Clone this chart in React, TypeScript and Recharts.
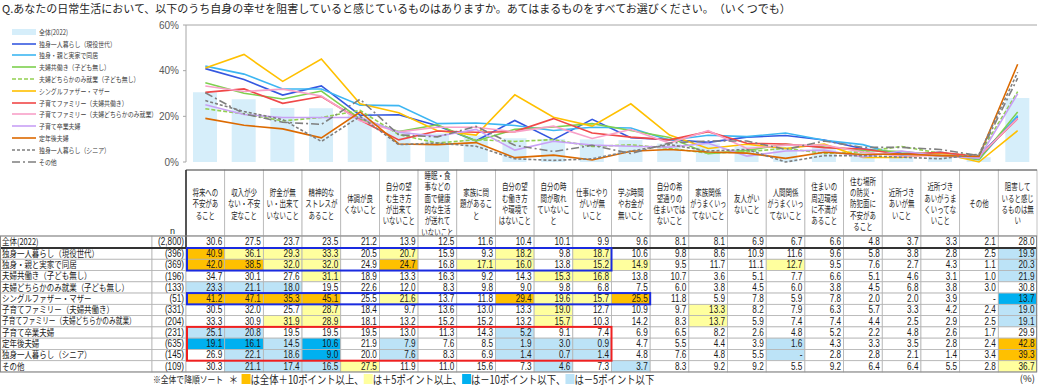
import React from 'react';
import { ComposedChart, Bar, Line, XAxis, YAxis, Legend, ReferenceLine } from 'recharts';

// ---------- data ----------
const categories = [
  '将来への\n不安があ\nること',
  '収入が少\nない・不安\n定なこと',
  '貯金が無\nい・出来て\nいないこと',
  '精神的な\nストレスが\nあること',
  '体調が良\nくないこと',
  '自分の望\nむ生き方\nが出来て\nいないこと',
  '睡眠・食\n事などの\n面で健康\n的な生活\nが送れて\nいないこと',
  '家族に問\n題があるこ\nと',
  '自分の望\nむ働き方\nや環境で\nはないこと',
  '自分の時\n間が取れ\nていないこ\nと',
  '仕事にやり\nがいが無\nいこと',
  '学ぶ時間\nやお金が\n無いこと',
  '自分の希\n望通りの\n住まいでは\nないこと',
  '家族関係\nがうまくいっ\nてないこと',
  '友人がい\nないこと',
  '人間関係\nがうまくいっ\nてないこと',
  '住まいの\n周辺環境\nに不満が\nあること',
  '住む場所\nの防災・\n防犯面に\n不安があ\nること',
  '近所づき\nあいが無\nいこと',
  '近所づき\nあいがうま\nくいってな\nいこと',
  'その他',
  '阻害して\nいると感じ\nるものは無\nい',
];

const overallLabel = '全体(2022)';
const overallN = '(2,800)';
const overall2022 = [30.6, 27.5, 23.7, 23.5, 21.2, 13.9, 12.5, 11.6, 10.4, 10.1, 9.9, 9.6, 8.1, 8.1, 6.9, 6.7, 6.6, 4.8, 3.7, 3.3, 2.1, 28.0];

const groupLabels = [
  '独身一人暮らし（現役世代）',
  '独身・親と実家で同居',
  '夫婦共働き（子ども無し）',
  '夫婦どちらかのみ就業（子ども無し）',
  'シングルファザー・マザー',
  '子育てファミリー（夫婦共働き）',
  '子育てファミリー（夫婦どちらかのみ就業）',
  '子育て卒業夫婦',
  '定年後夫婦',
  '独身一人暮らし（シニア）',
  'その他',
];
const groupN = ['(396)', '(369)', '(196)', '(133)', '(51)', '(331)', '(204)', '(231)', '(635)', '(145)', '(109)'];

const singleWorkingAge = [40.9, 36.1, 29.3, 33.3, 20.5, 20.7, 15.9, 9.3, 18.2, 9.8, 18.7, 10.6, 9.8, 8.6, 10.9, 11.6, 9.6, 5.8, 3.8, 2.8, 2.5, 19.9];
const singleWithParents = [42.0, 38.5, 32.0, 32.0, 24.9, 24.7, 16.8, 17.1, 16.0, 13.8, 15.2, 14.9, 9.5, 11.7, 11.1, 12.7, 9.5, 7.6, 2.7, 4.3, 1.1, 20.3];
const dualIncomeNoKids = [34.7, 30.1, 27.6, 31.1, 18.9, 13.3, 16.3, 9.2, 14.3, 15.3, 16.8, 13.8, 10.7, 3.6, 5.1, 7.7, 6.6, 5.1, 4.6, 3.1, 1.0, 21.9];
const singleIncomeNoKids = [23.3, 21.1, 18.0, 19.5, 22.6, 12.0, 8.3, 9.8, 9.0, 9.8, 6.8, 7.5, 6.0, 3.8, 4.5, 6.0, 3.8, 4.5, 6.8, 3.8, 3.0, 30.8];
const singleParent = [41.2, 47.1, 35.3, 45.1, 25.5, 21.6, 13.7, 11.8, 29.4, 19.6, 15.7, 25.5, 11.8, 5.9, 7.8, 5.9, 7.8, 2.0, 2.0, 3.9, null, 13.7];
const childRearingDual = [30.5, 32.0, 25.7, 28.7, 18.4, 9.7, 13.6, 13.0, 13.3, 19.0, 12.7, 10.9, 9.7, 13.3, 8.2, 7.9, 6.3, 5.7, 3.3, 4.2, 2.4, 19.0];
const childRearingSingle = [33.3, 30.9, 31.9, 28.9, 18.1, 13.2, 15.2, 15.2, 13.2, 15.7, 10.3, 14.2, 8.3, 13.7, 5.9, 7.4, 7.4, 4.4, 2.5, 2.9, 2.5, 19.1];
const emptyNest = [25.1, 20.8, 19.5, 19.5, 19.5, 13.0, 11.3, 14.3, 5.2, 9.1, 7.4, 6.9, 6.5, 8.2, 2.6, 4.8, 5.2, 2.2, 4.8, 2.6, 1.7, 29.9];
const retiredCouple = [19.1, 16.1, 14.5, 10.6, 21.9, 7.9, 7.6, 8.5, 1.9, 3.0, 0.9, 4.7, 5.5, 4.4, 3.9, 1.6, 4.3, 3.3, 3.5, 2.8, 2.4, 42.8];
const singleSenior = [26.9, 22.1, 18.6, 9.0, 20.0, 7.6, 8.3, 6.9, 1.4, 0.7, 1.4, 4.8, 7.6, 4.8, 5.5, null, 2.8, 2.8, 2.1, 1.4, 3.4, 39.3];
const others = [30.3, 21.1, 17.4, 16.5, 27.5, 11.9, 11.0, 15.6, 7.3, 4.6, 7.3, 3.7, 8.3, 9.2, 9.2, 5.5, 9.2, 6.4, 6.4, 5.5, 2.8, 36.7];

const groupValues: (number | null)[][] = [
  singleWorkingAge, singleWithParents, dualIncomeNoKids, singleIncomeNoKids, singleParent,
  childRearingDual, childRearingSingle, emptyNest, retiredCouple, singleSenior, others,
];

const yTicks = [0, 20, 40, 60];

// ---------- styles ----------
const lineStyles: { color: string; dash?: string }[] = [
  { color: '#3558E0' },
  { color: '#3DB6F2' },
  { color: '#7ED04E' },
  { color: '#92D050', dash: '4 2' },
  { color: '#FFC000' },
  { color: '#F04848' },
  { color: '#F8A0C8' },
  { color: '#C8A0F5' },
  { color: '#DC6A00' },
  { color: '#7F7F7F', dash: '3 2' },
  { color: '#7F7F7F', dash: '8 3 2 3' },
];
const BAR_COLOR = '#D6EEFA';
const ORANGE = '#FFC000';
const YELLOW = '#FFFF9E';
const DBLUE = '#00B0F0';
const LBLUE = '#BCE3F7';

// highlighted frames: rows are 1-based group rows, cols count from first data column
const frames = [
  { from: 1, to: 2, cols: 11, color: '#1A2BE0' },
  { from: 5, to: 5, cols: 12, color: '#1A2BE0' },
  { from: 8, to: 10, cols: 11, color: '#F02020' },
];

// ---------- layout ----------
const WIDTH = 1038;
const PLOT_LEFT = 186;
const PLOT_RIGHT = 1037;
const CHART_H = 170;
const COL_W = (PLOT_RIGHT - PLOT_LEFT) / categories.length;
const HEADER_TOP = 170;
const ROW0_TOP = 236;
const ROW1_TOP = 248;
const ROW_H = 11.27;
const LABEL_RIGHT = 152;
const JP = '"Noto Sans CJK JP", "Noto Sans CJK SC", sans-serif';
const NUMF = '"Liberation Sans", Arial, sans-serif';

const chartData = categories.map((c, i) => {
  const row: Record<string, any> = { name: c, overall: overall2022[i] };
  groupValues.forEach((vals, k) => {
    row[`s${k}`] = vals[i] ?? 0;
  });
  return row;
});

const cellColor = (v: number | null, base: number) => {
  const d = Math.round(((v ?? 0) - base) * 10) / 10;
  if (d >= 10) return ORANGE;
  if (d >= 5) return YELLOW;
  if (d <= -10) return DBLUE;
  if (d <= -5) return LBLUE;
  return '#FFFFFF';
};

const fmt = (v: number | null) => (v === null ? '-' : v.toFixed(1));

function SText(props: { x: number; y: number; text: string; size: number; sx: number; anchor?: string; family?: string; fill?: string }) {
  const { x, y, text, size, sx, anchor = 'start', family = JP, fill = '#1a1a1a' } = props;
  return (
    <text
      transform={`translate(${x},${y}) scale(${sx},1)`}
      fontSize={size}
      fontFamily={family}
      textAnchor={anchor as any}
      fill={fill}
    >
      {text}
    </text>
  );
}

function renderLegend() {
  const items = [{ label: overallLabel, bar: true, color: BAR_COLOR, dash: undefined as string | undefined }].concat(
    groupLabels.map((l, k) => ({ label: l, bar: false, color: lineStyles[k].color, dash: lineStyles[k].dash }))
  );
  return (
    <div style={{ width: 175 }}>
      {items.map((it, i) => (
        <div key={i} style={{ display: 'flex', alignItems: 'center', height: 11.8 }}>
          <svg width={24} height={8} style={{ flex: 'none' }}>
            {it.bar ? (
              <rect x={0} y={1} width={24} height={6} fill={it.color} />
            ) : (
              <line x1={0} y1={4} x2={24} y2={4} stroke={it.color} strokeWidth={1.6} strokeDasharray={it.dash} />
            )}
          </svg>
          <span
            style={{
              fontSize: 7.4,
              fontFamily: JP,
              marginLeft: 2.5,
              display: 'inline-block',
              whiteSpace: 'nowrap',
              transform: 'scaleX(0.8)',
              transformOrigin: 'left center',
              color: '#404040',
              lineHeight: '10px',
            }}
          >
            {it.label}
          </span>
        </div>
      ))}
    </div>
  );
}

function Table() {
  const rows = [{ label: overallLabel, n: overallN, values: overall2022 as (number | null)[] }].concat(
    groupLabels.map((l, k) => ({ label: l, n: groupN[k], values: groupValues[k] }))
  );
  const rowTop = (r: number) => (r === 0 ? ROW0_TOP : ROW1_TOP + (r - 1) * ROW_H);
  const rowH = (r: number) => (r === 0 ? ROW1_TOP - ROW0_TOP : ROW_H);
  const colX = (i: number) => PLOT_LEFT + i * COL_W;
  const tableBottom = rowTop(rows.length);
  const grid = '#B4B4B4';

  return (
    <svg width={WIDTH} height={386} style={{ position: 'absolute', left: 0, top: 0 }}>
      {/* header cells */}
      {categories.map((c, i) => {
        const lines = c.split('\n');
        const L = lines.length;
        const first = 204 - ((L - 1) / 2) * 11.3;
        return (
          <g key={`h${i}`}>
            <rect x={colX(i)} y={HEADER_TOP} width={COL_W} height={ROW0_TOP - HEADER_TOP} fill="#fff" stroke={grid} strokeWidth={0.8} />
            {lines.map((ln, j) => (
              <SText
                key={j}
                x={colX(i) + COL_W / 2}
                y={first + j * 11.3 + 3.3}
                text={ln}
                size={9.5}
                sx={Math.min(0.68, 36 / (ln.length * 9.5))}
                anchor="middle"
                fill="#262626"
              />
            ))}
          </g>
        );
      })}
      <line x1={PLOT_LEFT} y1={HEADER_TOP} x2={PLOT_RIGHT} y2={HEADER_TOP} stroke="#555" strokeWidth={1} />
      <SText x={170} y={233.5} text="n" size={9} sx={1} family={NUMF} fill="#262626" />

      {/* body */}
      {rows.map((row, r) => {
        const y = rowTop(r);
        const h = rowH(r);
        const base = r === 0;
        const ty = y + h / 2 + 3.4;
        return (
          <g key={`r${r}`}>
            <rect x={0.5} y={y} width={LABEL_RIGHT - 0.5} height={h} fill="#fff" stroke={grid} strokeWidth={0.8} />
            <rect x={LABEL_RIGHT} y={y} width={PLOT_LEFT - LABEL_RIGHT} height={h} fill="#fff" stroke={grid} strokeWidth={0.8} />
            <SText x={2} y={ty - 0.2} text={row.label} size={9} sx={Math.min(0.83, 134 / (row.label.length * 9))} fill="#1a1a1a" />
            <SText x={PLOT_LEFT - 2} y={ty} text={row.n} size={10} sx={0.82} anchor="end" family={NUMF} />
            {row.values.map((v, i) => (
              <g key={i}>
                <rect
                  x={colX(i)}
                  y={y}
                  width={COL_W}
                  height={h}
                  fill={base ? '#fff' : cellColor(v, overall2022[i])}
                  stroke={grid}
                  strokeWidth={0.8}
                />
                <SText x={colX(i + 1) - 2.5} y={ty} text={fmt(v)} size={10} sx={0.82} anchor="end" family={NUMF} />
              </g>
            ))}
          </g>
        );
      })}
      <line x1={PLOT_LEFT} y1={HEADER_TOP} x2={PLOT_LEFT} y2={ROW1_TOP} stroke="#333" strokeWidth={1.6} />
      <line x1={0} y1={ROW1_TOP} x2={PLOT_RIGHT} y2={ROW1_TOP} stroke="#333" strokeWidth={2} />
      <rect x={0.5} y={ROW0_TOP} width={PLOT_RIGHT - 1} height={tableBottom - ROW0_TOP} fill="none" stroke="#8a8a8a" strokeWidth={1} />

      {frames.map((f, k) => (
        <rect
          key={`f${k}`}
          x={colX(0) + 1}
          y={rowTop(f.from)}
          width={f.cols * COL_W - 1}
          height={rowTop(f.to + 1) - rowTop(f.from)}
          fill="none"
          stroke={f.color}
          strokeWidth={2}
        />
      ))}
    </svg>
  );
}

export default function App() {
  return (
    <div style={{ position: 'absolute', left: 0, top: 0, width: WIDTH, height: 386, background: '#fff', overflow: 'hidden' }}>
      <div
        style={{
          position: 'absolute',
          left: 2,
          top: 0,
          fontSize: 11,
          lineHeight: '16px',
          fontFamily: JP,
          color: '#262626',
          whiteSpace: 'nowrap',
        }}
      >
        Q.あなたの日常生活において、以下のうち自身の幸せを阻害していると感じているものはありますか。あてはまるものをすべてお選びください。　（いくつでも）
      </div>

      <div style={{ position: 'absolute', left: 0, top: 0 }}>
        <ComposedChart
          width={WIDTH}
          height={CHART_H}
          data={chartData}
          margin={{ top: 25, right: WIDTH - PLOT_RIGHT, bottom: 8, left: 0 }}
        >
          <XAxis dataKey="name" tick={false} tickLine={false} height={0} axisLine={{ stroke: '#A6A6A6' }} />
          <YAxis
            yAxisId="l"
            width={PLOT_LEFT}
            domain={[0, 60]}
            ticks={yTicks}
            tickFormatter={(v: number) => `${v}%`}
            tick={{ fontSize: 10, fill: '#595959', fontFamily: NUMF }}
            tickSize={3}
            tickMargin={4}
            axisLine={{ stroke: '#A6A6A6' }}
            tickLine={{ stroke: '#A6A6A6' }}
          />
          <YAxis yAxisId="r" orientation="right" width={0} domain={[0, 60]} tick={false} tickLine={false} axisLine={{ stroke: '#A6A6A6' }} />
          <ReferenceLine yAxisId="l" y={60} stroke="#A6A6A6" />
          <Bar yAxisId="l" dataKey="overall" fill={BAR_COLOR} barSize={24} isAnimationActive={false} />
          {lineStyles.map((s, k) => (
            <Line
              key={k}
              yAxisId="l"
              type="linear"
              dataKey={`s${k}`}
              stroke={s.color}
              strokeWidth={1.6}
              strokeDasharray={s.dash}
              dot={false}
              activeDot={false}
              isAnimationActive={false}
            />
          ))}
          <Legend
            layout="vertical"
            align="center"
            verticalAlign="middle"
            wrapperStyle={{ left: 12, top: 26, width: 175 }}
            content={renderLegend}
          />
        </ComposedChart>
      </div>

      <Table />

      <div
        style={{
          position: 'absolute',
          left: 153,
          top: 372,
          display: 'flex',
          alignItems: 'center',
          whiteSpace: 'nowrap',
          fontFamily: JP,
          color: '#262626',
          transform: 'scaleX(0.82)',
          transformOrigin: 'left center',
          height: 13,
        }}
      >
        <span style={{ fontSize: 9.5 }}>※全体で降順ソート</span>
        <span style={{ fontSize: 11.4, marginLeft: 7 }}>＊</span>
        <span style={{ display: 'inline-block', width: 11, height: 10, background: ORANGE, marginLeft: 4 }} />
        <span style={{ fontSize: 11.4 }}>は全体＋10ポイント以上、</span>
        <span style={{ display: 'inline-block', width: 11, height: 10, background: YELLOW }} />
        <span style={{ fontSize: 11.4 }}>は＋5ポイント以上、</span>
        <span style={{ display: 'inline-block', width: 11, height: 10, background: DBLUE }} />
        <span style={{ fontSize: 11.4 }}>は－10ポイント以下、</span>
        <span style={{ display: 'inline-block', width: 11, height: 10, background: LBLUE }} />
        <span style={{ fontSize: 11.4 }}>は－5ポイント以下</span>
      </div>
      <div
        style={{
          position: 'absolute',
          right: 3,
          top: 372,
          fontSize: 9.5,
          fontFamily: JP,
          color: '#262626',
          lineHeight: '13px',
        }}
      >
        (%)
      </div>
    </div>
  );
}
